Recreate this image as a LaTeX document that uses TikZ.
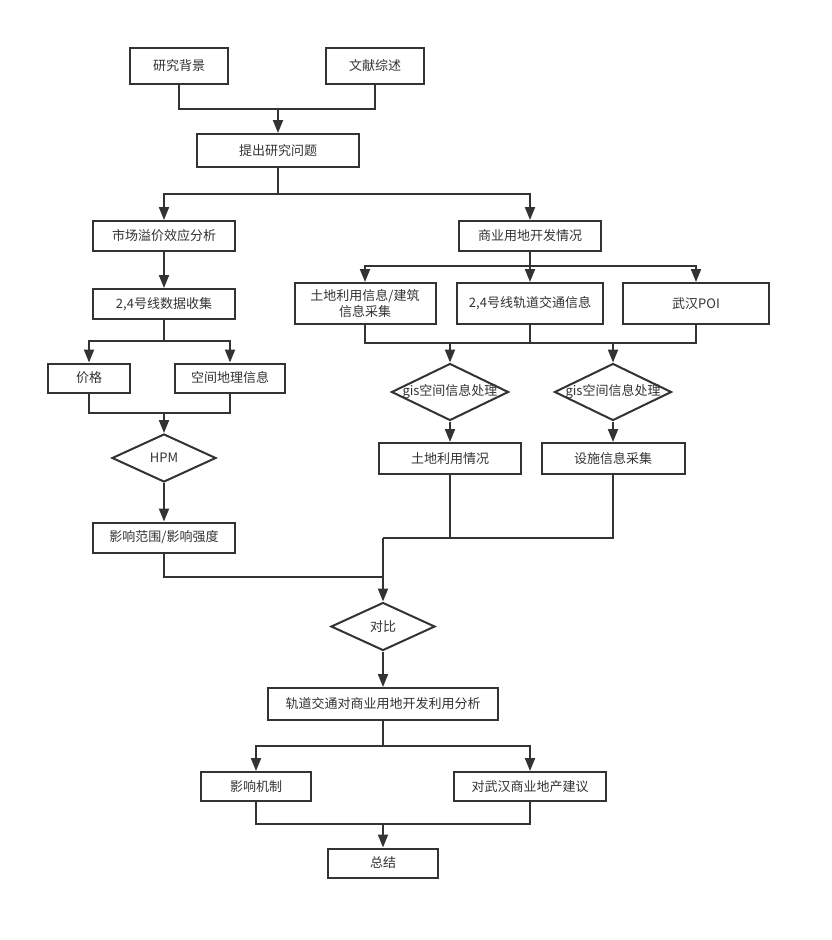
\documentclass[tikz,border=0pt]{standalone}
\usepackage{fontspec}
\setmainfont{Noto Sans CJK SC}
\usetikzlibrary{shapes.geometric,arrows.meta}
\definecolor{ln}{HTML}{333333}
\begin{document}
\begin{tikzpicture}[x=1pt,y=-1pt,
  box/.style={draw=ln,line width=2pt,rectangle,inner sep=0pt,font=\fontsize{13}{15.5}\selectfont,text=ln,align=center},
  dia/.style={draw=ln,line width=2pt,diamond,inner sep=0pt},
  lbl/.style={font=\fontsize{13}{15.5}\selectfont,text=ln},
  ln/.style={draw=ln,line width=2pt},
  arr/.style={ln,-{Triangle[width=10pt,length=13pt]}}]
\fill[white] (0,0) rectangle (831,940);
\useasboundingbox (0,0) rectangle (831,940);
% nodes
\node[box,minimum width=98pt,minimum height=36pt] (bg) at (179,66) {研究背景};
\node[box,minimum width=98pt,minimum height=36pt] (lit) at (375,66) {文献综述};
\node[box,minimum width=162pt,minimum height=33pt] (q) at (278,150.5) {提出研究问题};
\node[box,minimum width=142pt,minimum height=30pt] (mkt) at (164,236) {市场溢价效应分析};
\node[box,minimum width=142pt,minimum height=30pt] (com) at (530,236) {商业用地开发情况};
\node[box,minimum width=141pt,minimum height=41pt] (land) at (365,303.5) {土地利用信息/建筑\\信息采集};
\node[box,minimum width=146pt,minimum height=41pt] (rail) at (530,303.5) {2,4号线轨道交通信息};
\node[box,minimum width=146pt,minimum height=41pt] (poi) at (696,303.5) {武汉POI};
\node[dia,minimum width=117pt,minimum height=57pt] (d1) at (450,392) {};
\node[lbl] (d1t) at (d1) {gis空间信息处理};
\node[dia,minimum width=117pt,minimum height=57pt] (d2) at (613,392) {};
\node[lbl] (d2t) at (d2) {gis空间信息处理};
\node[box,minimum width=142pt,minimum height=31pt] (landuse) at (450,458.5) {土地利用情况};
\node[box,minimum width=143pt,minimum height=31pt] (fac) at (613,458.5) {设施信息采集};
\node[box,minimum width=142pt,minimum height=30pt] (data) at (164,304) {2,4号线数据收集};
\node[box,minimum width=82pt,minimum height=29pt] (price) at (89,378) {价格};
\node[box,minimum width=110pt,minimum height=29pt] (geo) at (230,378) {空间地理信息};
\node[dia,minimum width=104pt,minimum height=48pt] (hpm) at (164,458) {};
\node[lbl] (hpmt) at (hpm) {HPM};
\node[box,minimum width=142pt,minimum height=30pt] (infl) at (164,537.5) {影响范围/影响强度};
\node[dia,minimum width=104pt,minimum height=48pt] (cmp) at (383,626.5) {};
\node[lbl] (cmpt) at (cmp) {对比};
\node[box,minimum width=230pt,minimum height=32pt] (ana) at (383,704) {轨道交通对商业用地开发利用分析};
\node[box,minimum width=110pt,minimum height=29pt] (mech) at (256,786.5) {影响机制};
\node[box,minimum width=152pt,minimum height=29pt] (sug) at (530,786.5) {对武汉商业地产建议};
\node[box,minimum width=110pt,minimum height=29pt] (sum) at (383,863) {总结};
% junctions
\coordinate (j1) at (278,109);
\coordinate (j2) at (278,194);
\coordinate (j3) at (164,341);
\coordinate (j4) at (164,413);
\coordinate (j5) at (530,266);
\coordinate (j6) at (530,343);
\coordinate (j6a) at (450,343);
\coordinate (j6b) at (613,343);
\coordinate (j7) at (383,538);
\coordinate (j8) at (383,577);
\coordinate (j9) at (383,746);
\coordinate (j10) at (383,824);
% connectors
\draw[ln] (bg.south) |- (j1) -| (lit.south);
\draw[arr] (j1) -- (q.north);
\draw[ln] (q.south) -- (j2);
\draw[arr] (j2) -| (mkt.north);
\draw[arr] (j2) -| (com.north);
\draw[arr] (mkt.south) -- (data.north);
\draw[ln] (data.south) -- (j3);
\draw[arr] (j3) -| (price.north);
\draw[arr] (j3) -| (geo.north);
\draw[ln] (price.south) |- (j4) -| (geo.south);
\draw[arr] (j4) -- (hpm.north);
\draw[arr] (hpm.south) -- (infl.north);
\draw[ln] (com.south) -- (j5);
\draw[arr] (j5) -| (land.north);
\draw[arr] (j5) -- (rail.north);
\draw[arr] (j5) -| (poi.north);
\draw[ln] (land.south) |- (j6) -| (poi.south);
\draw[ln] (rail.south) -- (j6);
\draw[arr] (j6a) -- (d1.north);
\draw[arr] (j6b) -- (d2.north);
\draw[arr] (d1.south) -- (landuse.north);
\draw[arr] (d2.south) -- (fac.north);
\draw[ln] (landuse.south) |- (j7);
\draw[ln] (fac.south) |- (j7);
\draw[ln] (infl.south) |- (j8);
\draw[arr] (j7) -- (cmp.north);
\draw[arr] (cmp.south) -- (ana.north);
\draw[ln] (ana.south) -- (j9);
\draw[arr] (j9) -| (mech.north);
\draw[arr] (j9) -| (sug.north);
\draw[ln] (mech.south) |- (j10) -| (sug.south);
\draw[arr] (j10) -- (sum.north);
\end{tikzpicture}
\end{document}
